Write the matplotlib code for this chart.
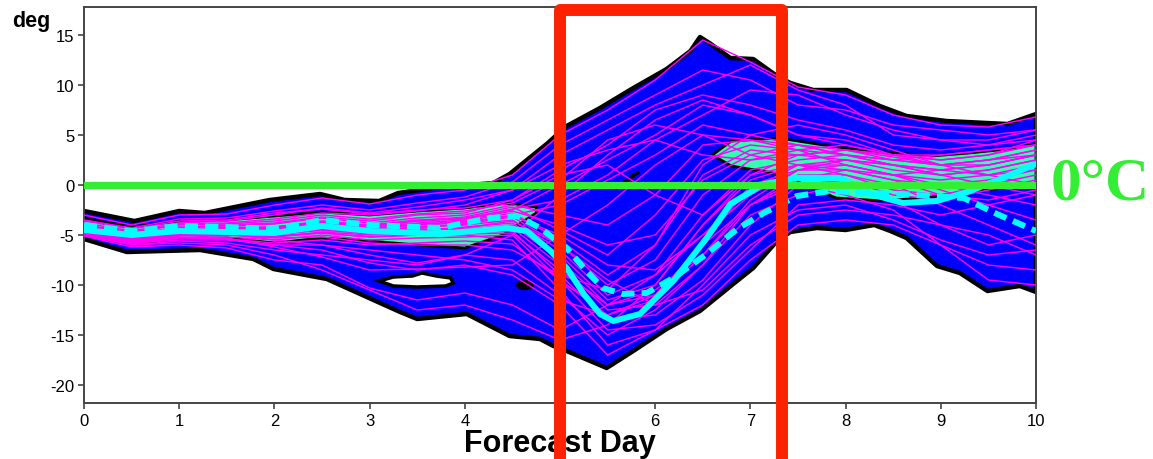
import numpy as np
import matplotlib
matplotlib.use("Agg")
import matplotlib.pyplot as plt
from matplotlib.patches import Ellipse

plt.rcParams['font.family'] = ['Liberation Sans', 'DejaVu Sans']
plt.rcParams['axes.unicode_minus'] = False

# ---------------- data ----------------
days = [0, 0.5, 1, 1.5, 2, 2.5, 3, 3.5, 4, 4.5, 5, 5.5, 6, 6.5, 7, 7.5, 8, 8.5, 9, 9.5, 10]

m01 = [-3.0, -4.0, -3.0, -2.9, -2.0, -1.3, -1.9, -1.0, -0.5, 1.0, 5.0, 7.5, 10.5, 14.5, 12.3, 9.8, 9.0, 7.0, 6.0, 5.8, 6.8]
m02 = [-3.5, -4.3, -3.4, -3.3, -2.6, -2.0, -2.5, -1.8, -1.2, 0.3, 4.0, 6.5, 9.0, 11.5, 10.5, 8.0, 7.5, 6.0, 5.5, 5.0, 5.5]
m03 = [-4.0, -4.8, -3.9, -3.8, -3.4, -2.8, -3.0, -2.6, -2.0, -0.5, 3.0, 5.5, 8.0, 10.0, 12.0, 9.5, 8.0, 5.0, 4.5, 4.0, 4.5]
m04 = [-4.2, -5.0, -4.3, -4.0, -3.8, -3.2, -3.6, -3.0, -2.8, -1.5, 1.5, 4.0, 7.5, 9.0, 8.0, 6.5, 5.5, 4.0, 3.5, 4.0, 5.0]
m05 = [-4.4, -5.2, -4.5, -4.3, -4.2, -3.6, -4.0, -3.5, -3.3, -2.5, 0.0, 2.5, 5.0, 8.0, 7.0, 5.0, 4.5, 3.0, 2.5, 3.0, 4.0]
m06 = [-4.6, -5.4, -4.8, -4.6, -4.6, -4.0, -4.3, -4.0, -3.8, -3.0, -2.0, 0.5, 3.0, 6.0, 5.0, 4.0, 3.0, 2.5, 2.0, 2.5, 3.5]
m07 = [-4.3, -5.0, -4.4, -4.2, -4.3, -3.7, -4.1, -3.6, -3.2, -2.2, -4.5, -7.0, -3.0, 2.5, 4.0, 3.5, 3.0, 2.0, 1.5, 2.0, 3.0]
m08 = [-4.5, -5.3, -4.6, -4.5, -4.5, -3.9, -4.4, -4.0, -3.6, -2.8, -5.5, -9.0, -6.0, 1.0, 3.5, 3.0, 2.5, 1.5, 1.0, 1.5, 2.5]
m09 = [-4.7, -5.5, -4.9, -4.7, -4.8, -4.2, -4.6, -4.3, -3.9, -3.2, -6.0, -10.0, -7.5, -1.0, 2.5, 3.0, 3.5, 2.8, 2.0, 2.0, 3.0]
m10 = [-4.4, -5.1, -4.5, -4.4, -4.6, -4.1, -4.5, -4.2, -4.0, -3.5, -6.5, -11.0, -9.0, -3.0, 1.5, 2.5, 3.0, 2.5, 3.0, 3.5, 4.0]
m11 = [-4.8, -5.6, -5.0, -4.9, -5.0, -4.5, -4.8, -4.6, -4.2, -3.8, -7.0, -11.5, -10.0, -4.0, 1.0, 2.0, 2.0, 1.0, 0.5, 1.0, 2.0]
m12 = [-4.6, -5.4, -4.7, -4.6, -4.7, -4.3, -4.7, -4.4, -4.4, -4.0, -7.5, -12.0, -11.0, -6.0, 0.0, 1.5, 1.5, 0.5, 0.0, 0.5, 1.5]
m13 = [-4.9, -5.7, -5.1, -5.0, -5.2, -4.7, -5.0, -4.9, -4.6, -4.3, -8.0, -12.5, -12.0, -8.0, -2.0, 1.0, 1.0, -0.5, -1.0, 0.0, 1.0]
m14 = [-4.5, -5.3, -4.6, -4.5, -4.9, -4.5, -4.9, -4.7, -4.8, -4.6, -9.0, -13.5, -13.0, -9.5, -4.0, 0.0, 0.5, -1.0, -1.5, -0.5, 0.5]
m15 = [-5.0, -5.9, -5.3, -5.2, -5.5, -5.0, -5.5, -5.3, -5.2, -5.0, -9.5, -14.5, -14.0, -11.0, -6.5, -2.0, -1.5, -2.0, -3.0, -2.0, -1.0]
m16 = [-4.7, -5.5, -4.8, -4.7, -5.1, -4.8, -5.2, -5.0, -5.0, -5.5, -10.5, -16.0, -14.5, -12.0, -7.5, -4.0, -3.5, -4.0, -6.0, -8.0, -8.5]
m17 = [-5.0, -6.0, -5.6, -5.8, -6.5, -7.0, -7.5, -8.0, -7.0, -7.5, -11.0, -15.0, -12.5, -8.0, -3.0, -1.0, 0.0, -1.5, -4.0, -6.0, -5.0]
m18 = [-4.8, -5.8, -5.5, -5.5, -6.0, -6.5, -7.8, -8.5, -8.0, -9.0, -12.0, -17.0, -14.5, -10.0, -5.0, -2.5, -2.0, -3.5, -5.5, -7.0, -6.5]
m19 = [-5.1, -6.2, -6.0, -6.3, -7.5, -8.0, -10.3, -11.5, -10.8, -12.0, -14.5, -12.0, -9.0, -5.0, -1.0, 1.5, 2.0, 1.0, -0.5, -2.0, -3.5]
m20 = [-4.9, -6.0, -5.8, -6.0, -7.0, -8.5, -10.5, -12.5, -12.0, -13.5, -15.5, -14.0, -10.0, -4.0, 0.5, 2.0, 1.0, 0.0, -2.0, -4.0, -6.0]
m21 = [-4.6, -5.5, -5.0, -5.3, -6.2, -7.2, -8.5, -8.4, -8.2, -8.0, -5.0, -2.0, 2.0, 5.0, 4.5, 3.5, 2.0, 1.0, 0.0, -1.0, -2.0]
m22 = [-4.2, -5.1, -4.6, -4.8, -5.5, -6.0, -7.0, -7.8, -7.0, -5.0, -1.0, 3.0, 6.5, 8.5, 7.0, 5.0, 4.0, 3.0, 2.0, 2.5, 3.0]
m23 = [-3.8, -4.6, -3.8, -3.6, -3.0, -2.3, -2.8, -2.2, -1.5, -0.5, 2.0, 3.5, 4.5, 3.0, 2.5, 3.5, 4.0, 3.0, 2.5, 3.0, 4.5]
m24 = [-4.1, -4.9, -4.2, -4.1, -3.9, -3.3, -3.8, -3.3, -3.0, -2.0, -3.0, -4.0, -1.0, 4.0, 4.5, 4.0, 3.5, 3.0, 3.0, 3.5, 4.0]
m25 = [-4.3, -5.1, -4.4, -4.3, -4.4, -3.8, -4.2, -3.8, -3.5, -2.6, -4.0, -6.0, -5.0, 0.5, 3.0, 4.0, 3.0, 2.0, 1.0, 1.5, 2.5]
m26 = [-4.5, -5.3, -4.6, -4.4, -4.4, -4.0, -4.4, -3.9, -3.7, -3.1, -5.0, -8.0, -8.5, -5.0, -0.5, 2.0, 2.5, 2.0, 1.0, 0.0, -1.0]
m27 = [-4.7, -5.6, -5.0, -5.0, -5.3, -5.2, -5.8, -6.0, -6.0, -6.5, -9.0, -10.5, -6.0, 2.0, 5.0, 6.0, 5.0, 3.5, 2.0, 1.0, 0.0]
m28 = [-4.4, -5.2, -4.7, -4.7, -4.9, -4.4, -4.8, -4.5, -4.3, -3.6, -6.0, -9.5, -12.0, -10.5, -6.0, -3.0, -2.5, -3.0, -4.0, -5.0, -7.0]
m29 = [-3.6, -4.4, -3.6, -3.5, -2.8, -2.4, -2.9, -2.5, -2.3, -1.5, 1.0, 2.0, -1.0, -3.0, 1.0, 3.0, 3.5, 2.5, 2.0, 2.5, 3.5]
m30 = [-4.0, -4.7, -4.0, -3.9, -3.6, -3.0, -3.4, -2.9, -2.6, -1.8, 0.5, 4.5, 6.0, 5.0, 3.0, 2.0, 1.5, 1.0, 1.5, 2.0, 3.0]
m31 = [-4.6, -5.5, -5.2, -5.4, -6.0, -6.0, -6.5, -7.0, -7.5, -8.5, -11.5, -13.0, -11.5, -7.0, -2.0, 0.5, 1.5, 0.5, -1.0, -1.5, -0.5]
m32 = [-4.5, -5.4, -4.9, -4.9, -5.2, -4.8, -5.2, -5.0, -4.9, -4.8, -8.5, -12.0, -10.5, -7.0, -1.5, 1.5, 2.5, 2.0, 1.5, 1.0, 1.5]
m33 = [-4.8, -5.7, -5.3, -5.4, -5.8, -5.5, -6.0, -5.8, -5.6, -5.9, -9.5, -13.0, -11.0, -6.0, -2.0, 0.0, -1.0, -2.5, -6.0, -9.5, -10.0]
m34 = [-4.3, -5.0, -4.4, -4.3, -4.2, -3.7, -4.1, -3.6, -3.4, -2.4, -1.5, 1.0, 4.5, 7.0, 9.5, 9.0, 7.0, 5.5, 4.5, 4.5, 5.5]

members = [m01, m02, m03, m04, m05, m06, m07, m08, m09, m10, m11, m12, m13, m14, m15, m16, m17,
           m18, m19, m20, m21, m22, m23, m24, m25, m26, m27, m28, m29, m30, m31, m32, m33, m34]

# envelope (blue area)
env_up_x = [0, 0.53, 1.0, 1.27, 1.95, 2.48, 2.74, 3.1, 3.3, 3.67, 4.3, 4.47, 4.86, 5.07, 5.42, 5.77, 6.12,
            6.37, 6.47, 6.57, 6.79, 7.03, 7.28, 7.42, 7.66, 8.01, 8.36, 8.64, 9.06, 9.7, 10]
env_up_y = [-2.6, -3.6, -2.6, -2.8, -1.5, -0.9, -1.5, -1.6, -0.8, -0.3, 0.2, 1.1, 4.1, 5.9, 7.7, 9.7, 11.6,
            13.4, 14.8, 14.2, 12.7, 12.6, 10.9, 10.2, 9.5, 9.5, 7.9, 6.9, 6.4, 6.1, 7.1]
env_lo_x = [0, 0.45, 1.22, 1.78, 1.99, 2.55, 2.83, 3.32, 3.5, 4.02, 4.47, 4.79, 4.93, 5.07, 5.49, 5.77, 6.12,
            6.47, 6.82, 7.03, 7.28, 7.42, 7.7, 8.0, 8.3, 8.47, 8.64, 8.96, 9.2, 9.49, 9.83, 10]
env_lo_y = [-5.4, -6.7, -6.5, -7.4, -8.4, -9.4, -10.6, -12.7, -13.4, -12.9, -15.1, -15.4, -16.1, -16.6, -18.3,
            -16.6, -14.4, -12.6, -9.9, -8.3, -5.6, -4.7, -4.3, -4.5, -4.0, -4.6, -5.3, -8.1, -8.8, -10.6, -10.1, -10.7]

# inner band (aquamarine)
inner1_x = [0, 0.5, 1.0, 1.5, 2.0, 2.5, 3.0, 3.5, 4.0, 4.4, 4.75]
inner1_up = [-3.3, -4.2, -3.6, -3.5, -3.1, -2.7, -3.0, -2.6, -2.3, -1.8, -2.2]
inner1_lo = [-5.0, -5.9, -5.4, -5.3, -5.8, -5.3, -5.6, -6.0, -6.3, -5.0, -2.8]
inner2_x = [6.6, 6.8, 7.3, 7.9, 8.4, 8.9, 9.3, 9.7, 10]
inner2_up = [3.0, 4.4, 4.7, 3.8, 3.3, 2.9, 3.2, 3.6, 4.1]
inner2_lo = [3.0, 1.9, 1.1, -1.3, -1.6, -1.2, -0.6, -0.3, -0.3]

# holes in envelope
hole1_x = [3.1, 3.25, 3.45, 3.55, 3.7, 3.85, 3.88, 3.8, 3.5, 3.25, 3.1]
hole1_y = [-9.6, -9.2, -9.1, -8.8, -9.1, -9.3, -9.8, -10.1, -10.2, -10.1, -9.6]
hole2_x = [5.58, 5.68, 5.78, 5.83, 5.78, 5.66, 5.58]
hole2_y = [-0.4, 0.3, 1.0, 1.3, 1.0, 0.1, -0.4]
blob_center = (4.63, -10.0)

# cyan lines
solid_x = [0, 0.5, 1.0, 1.5, 2.0, 2.5, 3.0, 3.5, 3.74, 4.09, 4.44, 4.65, 4.9, 5.07, 5.25, 5.42, 5.56, 5.84,
           6.19, 6.54, 6.79, 7.14, 7.49, 7.94, 8.26, 8.6, 8.96, 9.31, 9.65, 10]
solid_y = [-4.5, -5.0, -4.6, -4.7, -4.8, -4.1, -4.6, -4.8, -4.9, -4.6, -4.3, -4.6, -6.6, -8.3, -10.9, -12.9,
           -13.6, -12.9, -9.6, -5.3, -1.9, 0.1, 0.7, 0.7, -0.9, -1.8, -1.6, -0.6, 0.7, 2.1]
dash_x = [0, 0.5, 1.0, 1.5, 2.0, 2.5, 3.0, 3.5, 3.74, 4.26, 4.55, 4.79, 5.07, 5.25, 5.45, 5.66, 5.91, 6.19,
          6.54, 6.86, 7.14, 7.49, 7.84, 8.26, 8.6, 8.89, 9.24, 9.59, 10]
dash_y = [-4.0, -4.6, -4.1, -4.2, -4.4, -3.5, -4.0, -4.2, -4.3, -3.3, -3.1, -4.3, -6.3, -8.3, -10.3, -10.9,
          -10.8, -9.3, -6.9, -4.4, -2.8, -1.1, -0.6, -0.8, -0.9, -1.1, -1.3, -2.9, -4.6]

x_ticks = [0, 1, 2, 3, 4, 5, 6, 7, 8, 9, 10]
y_ticks = [-20, -15, -10, -5, 0, 5, 10, 15]
highlight_start, highlight_end = 5.0, 7.33

# ---------------- figure ----------------
W, H = 1153, 460
fig = plt.figure(figsize=(W / 100, H / 100), dpi=100)
ax = fig.add_axes([84 / W, 1 - 404 / H, (1036 - 84) / W, (404 - 8) / H])
ax.set_xlim(0, 10)
ax.set_ylim(-21.8, 17.8)

BLUE = '#0000ff'
AQUA = '#33ffb0'
MAG = '#ff00ff'
CYAN = '#00ffff'
GREEN = '#33ee33'
RED = '#ff2200'

# envelope polygon
poly_x = np.concatenate([env_up_x, env_lo_x[::-1]])
poly_y = np.concatenate([env_up_y, env_lo_y[::-1]])
ax.fill(poly_x, poly_y, facecolor=BLUE, edgecolor='black', lw=3.2, joinstyle='round', zorder=1)

# holes
ax.fill(hole1_x, hole1_y, facecolor='white', edgecolor='black', lw=2.5, zorder=1.5)
ax.fill(hole2_x, hole2_y, facecolor='white', edgecolor='black', lw=2.2, zorder=1.5)
ax.add_patch(Ellipse(blob_center, 0.17, 0.9, facecolor='black', edgecolor='black', zorder=1.5))

# inner bands
for bx, bu, bl in [(inner1_x, inner1_up, inner1_lo), (inner2_x, inner2_up, inner2_lo)]:
    px = np.concatenate([bx, bx[::-1]])
    py = np.concatenate([bu, bl[::-1]])
    ax.fill(px, py, facecolor=AQUA, edgecolor='black', lw=2.0, zorder=2)

# ensemble members
for m in members:
    ax.plot(days, m, color=MAG, lw=1.05, zorder=3)

# cyan lines
ax.plot(solid_x, solid_y, color=CYAN, lw=4.3, zorder=4, solid_capstyle='round', solid_joinstyle='round')
ax.plot(dash_x, dash_y, color=CYAN, lw=4.3, zorder=4, dashes=(2.2, 1.2))

# zero line
ax.axhline(0, color=GREEN, lw=5.2, zorder=5)

# highlight box
ax.plot([highlight_start, highlight_start, highlight_end, highlight_end], [-40, 17.47, 17.47, -40],
        color=RED, lw=8.6, solid_joinstyle='round', solid_capstyle='butt', clip_on=False, zorder=10)

# axes styling
ax.set_xticks(x_ticks)
ax.set_yticks(y_ticks)
ax.set_xticklabels([str(v) for v in x_ticks])
ax.set_yticklabels([str(v) for v in y_ticks])
ax.tick_params(direction='out', length=4.5, width=1.2, color='#444444', labelsize=12, pad=2.5)
for s in ax.spines.values():
    s.set_color('#444444')
    s.set_linewidth(1.4)

# labels
ax.text(12 / W, 1 - 27 / H, 'deg', transform=fig.transFigure, fontsize=15.5, fontweight='bold',
        ha='left', va='baseline', clip_on=False, zorder=6)
ax.text((84 + 1036) / 2 / W, 1 - 452 / H, 'Forecast Day', transform=fig.transFigure, fontsize=22,
        fontweight='bold', ha='center', va='baseline', clip_on=False, zorder=6)
ax.text(1051 / W, 1 - 200 / H, '0°C', transform=fig.transFigure, fontsize=44, fontweight='bold',
        family=['Liberation Serif', 'DejaVu Serif'], color=GREEN, ha='left', va='baseline',
        clip_on=False, zorder=6)

fig.savefig('out.png', dpi=100)
